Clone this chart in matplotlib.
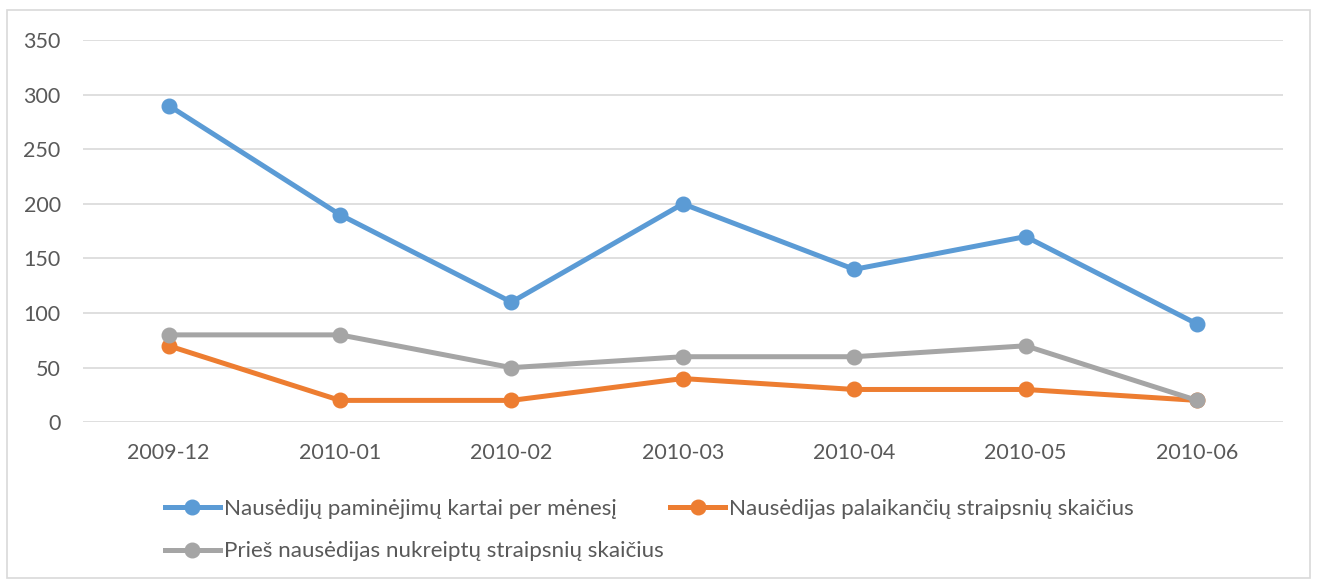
import matplotlib
matplotlib.use("Agg")
import matplotlib.pyplot as plt
from matplotlib.patches import Rectangle

categories = ["2009-12", "2010-01", "2010-02", "2010-03", "2010-04", "2010-05", "2010-06"]
mentions = [290, 190, 110, 200, 140, 170, 90]
supporting = [70, 20, 20, 40, 30, 30, 20]
against = [80, 80, 50, 60, 60, 70, 20]
series_names = [
    "Nausėdijų paminėjimų kartai per mėnesį",
    "Nausėdijas palaikančių straipsnių skaičius",
    "Prieš nausėdijas nukreiptų straipsnių skaičius",
]
yticks = [0, 50, 100, 150, 200, 250, 300, 350]

plt.rcParams['font.family'] = ['Lato', 'DejaVu Sans']
text_color = "#595959"

fig = plt.figure(figsize=(13.17, 5.8), dpi=100)
ax = fig.add_axes([0.063, 0.272, 0.911, 0.659])

x = list(range(len(categories)))
lw = 3.6
ms = 10.5
l1, = ax.plot(x, mentions, color="#5B9BD5", lw=lw, marker="o", ms=ms, label=series_names[0], zorder=3)
l2, = ax.plot(x, supporting, color="#ED7D31", lw=lw, marker="o", ms=ms, label=series_names[1], zorder=3)
l3, = ax.plot(x, against, color="#A5A5A5", lw=lw, marker="o", ms=ms, label=series_names[2], zorder=3)

ax.set_xlim(-0.5, len(categories) - 0.5)
ax.set_ylim(0, 350)
ax.set_yticks(yticks)
ax.set_xticks(x)
ax.set_xticklabels(categories)
ax.grid(axis="y", color="#D9D9D9", lw=1.2)
ax.set_axisbelow(True)
for s in ax.spines.values():
    s.set_visible(False)
ax.tick_params(length=0, labelsize=15.5, colors=text_color)
ax.tick_params(axis="x", pad=15)
ax.tick_params(axis="y", pad=16)

leg = fig.legend([l1, l3, l2], [series_names[0], series_names[2], series_names[1]],
                 ncol=2, loc="upper left", bbox_to_anchor=(0.1253, 0.1397),
                 frameon=False, fontsize=16.1, handlelength=2.45, handletextpad=0.18,
                 columnspacing=0.3, labelspacing=1.0, borderaxespad=0, borderpad=0)
for t in leg.get_texts():
    t.set_color(text_color)

fig.patches.append(Rectangle((0.005, 0.003), 0.99, 0.98, transform=fig.transFigure,
                             fill=False, edgecolor="#D9D9D9", lw=1.2))

fig.savefig("out.png", dpi=100, facecolor="white")
